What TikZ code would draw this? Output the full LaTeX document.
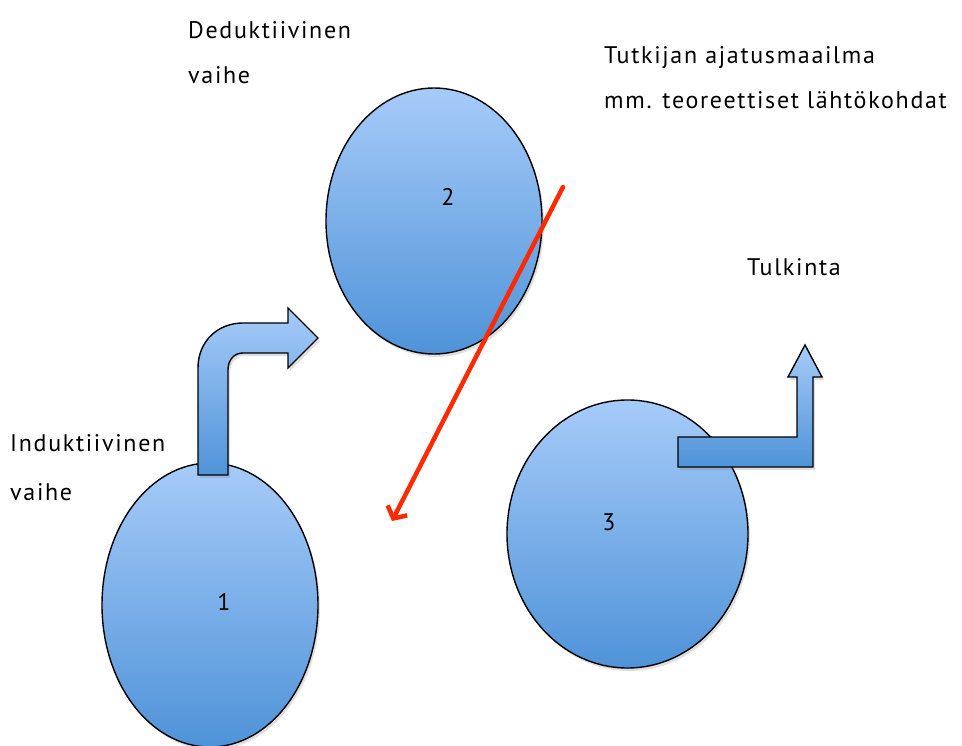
\documentclass[tikz,border=0pt]{standalone}
\usepackage{fontspec}
\setmainfont{PT Sans}[LetterSpace=7]
\usetikzlibrary{shapes.geometric,arrows.meta,shadows}
\definecolor{topblue}{HTML}{A6CBF9}
\definecolor{botblue}{HTML}{4F93D8}
\definecolor{redarrow}{HTML}{FF2A00}
\tikzset{
  blob/.style={ellipse, draw=black, line width=1.4pt, top color=topblue, bottom color=botblue, inner sep=0pt,
    drop shadow={shadow xshift=2pt, shadow yshift=-3pt, opacity=0.25}},
  blockarrow/.style={draw=black, line width=1.4pt, line join=miter, top color=topblue, bottom color=botblue,
    drop shadow={shadow xshift=2pt, shadow yshift=-3pt, opacity=0.25}},
  lbl/.style={anchor=base west, inner sep=0pt, font=\fontsize{24}{28}\selectfont},
  num/.style={inner sep=0pt, font=\fontsize{24}{28}\selectfont},
}
\begin{document}
\begin{tikzpicture}[x=1pt,y=-1pt]
\useasboundingbox (0,0) rectangle (962,746);
% ellipse 1
\node[blob, minimum width=216pt, minimum height=284pt] (e1) at (210,605) {};
\node[num] (n1) at (224,602) {1};
% bent arrow
\path[blockarrow] (198,475) -- (198,368) .. controls (198,341) and (218,323) .. (243,323)
  -- (288,323) -- (288,308) -- (318,338) -- (288,368) -- (288,353) -- (243,353)
  .. controls (234,353) and (228,360) .. (228,370) -- (228,475) -- cycle;
% ellipse 2
\node[blob, minimum width=216pt, minimum height=266pt] (e2) at (434,221) {};
\node[num] (n2) at (448,197) {2};
% circle 3
\node[blob, minimum width=241pt, minimum height=268pt] (e3) at (627.5,534) {};
\node[num] (n3) at (609,522) {3};
% L arrow
\path[blockarrow] (678,437) -- (797,437) -- (797,377) -- (788,377) -- (805,345) -- (822,377)
  -- (813,377) -- (813,467) -- (678,467) -- cycle;
% red arrow
\coordinate (rs) at (563,187);
\coordinate (re) at (392,521);
\draw[redarrow, line width=4.5pt, line cap=round, -{Straight Barb[length=9pt,width=22pt,line width=4.5pt]}] (rs) -- (re);
% labels
\node[lbl] (t1) at (188,39) {Deduktiivinen};
\node[lbl] (t2) at (188,84) {vaihe};
\node[lbl] (t3) at (604,64) {Tutkijan ajatusmaailma};
\node[lbl] (t4) at (604,109) {mm. teoreettiset lähtökohdat};
\node[lbl] (t5) at (747,276) {Tulkinta};
\node[lbl] (t6) at (10,451) {Induktiivinen};
\node[lbl] (t7) at (10,500) {vaihe};
\end{tikzpicture}
\end{document}
